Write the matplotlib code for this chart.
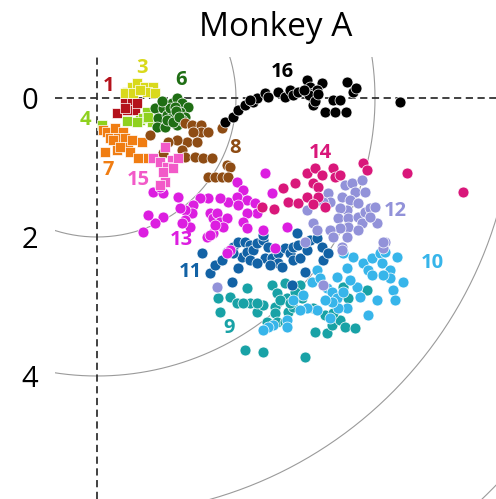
import numpy as np
import matplotlib.pyplot as plt

plt.rcParams['font.family'] = ['Open Sans', 'DejaVu Sans']

# cluster points (x, y) in the projected space, y grows downward
c1 = [(0.29, 0.22), (0.40, 0.07), (0.50, 0.07), (0.55, 0.17), (0.43, 0.17), (0.58, 0.07), (0.40, 0.14)]
c3 = [(0.43, -0.09), (0.50, -0.16), (0.58, -0.22), (0.69, -0.16), (0.81, -0.16), (0.40, -0.07),
      (0.72, -0.09), (0.83, -0.07), (0.52, -0.07), (0.62, -0.12)]
c4 = [(0.43, 0.33), (0.62, 0.32), (0.66, 0.29), (0.72, 0.20), (0.79, 0.35), (0.58, 0.35), (0.73, 0.27),
      (0.07, 0.39)]
c6 = [(0.83, 0.14), (0.95, 0.14), (1.08, 0.07), (1.15, 0.0), (1.22, 0.07), (1.31, 0.13), (0.88, 0.29),
      (1.01, 0.24), (1.09, 0.24), (1.19, 0.20), (1.27, 0.27), (0.86, 0.42), (0.98, 0.42), (1.15, 0.39),
      (1.05, 0.14), (1.12, 0.13), (1.22, 0.32), (1.01, 0.32), (1.09, 0.35), (1.14, 0.18), (0.93, 0.05),
      (1.18, 0.28)]
c7 = [(0.09, 0.46), (0.14, 0.49), (0.19, 0.58), (0.26, 0.43), (0.37, 0.49), (0.30, 0.58), (0.40, 0.58),
      (0.23, 0.60), (0.45, 0.71), (0.12, 0.78), (0.29, 0.75), (0.47, 0.78), (0.59, 0.86), (0.65, 0.63),
      (0.73, 0.86), (0.33, 0.71), (0.50, 0.60)]
c8 = [(1.27, 0.36), (1.37, 0.39), (1.50, 0.39), (1.50, 0.49), (1.60, 0.49), (1.38, 0.49), (1.80, 0.43),
      (1.30, 0.63), (1.15, 0.60), (1.02, 0.63), (1.22, 0.75), (1.27, 0.85), (1.41, 0.85), (1.53, 0.86),
      (1.65, 0.86), (0.76, 0.53), (0.95, 0.79), (1.60, 1.14), (1.70, 1.14), (1.80, 1.14), (1.87, 0.96),
      (1.91, 0.99), (1.88, 1.14), (1.44, 0.63)]
c9 = [(1.74, 2.88), (1.77, 3.08), (1.91, 2.86), (2.01, 2.95), (2.16, 2.73), (2.20, 2.95), (2.30, 3.08),
      (2.39, 2.98), (2.52, 2.69), (2.59, 2.81), (2.56, 3.01), (2.56, 3.09), (2.71, 2.66), (2.73, 2.88),
      (2.75, 3.08), (2.82, 3.01), (2.92, 2.69), (2.95, 2.88), (2.85, 2.79), (2.45, 3.22), (2.59, 3.22),
      (2.71, 3.22), (3.11, 3.02), (3.14, 3.37), (3.31, 3.38), (3.38, 3.27), (3.50, 3.19), (3.57, 3.29),
      (3.61, 2.88), (3.71, 3.31), (3.88, 2.76), (3.54, 2.72), (2.13, 3.63), (2.39, 3.65), (2.99, 3.73),
      (3.28, 3.12), (3.40, 3.09), (2.30, 2.95), (2.10, 2.95), (2.63, 2.91), (2.78, 2.95)]
c10 = [(3.17, 2.47), (3.09, 2.65), (3.21, 2.59), (3.31, 2.73), (3.38, 2.79), (3.45, 2.88), (3.54, 2.79),
       (3.45, 2.58), (3.60, 2.45), (3.68, 2.29), (3.74, 2.72), (3.83, 2.37), (3.90, 2.47), (3.96, 2.30),
       (4.07, 2.23), (4.10, 2.37), (4.14, 2.22), (4.22, 2.47), (4.26, 2.76), (4.32, 2.29), (4.40, 2.65),
       (4.22, 2.59), (4.12, 2.55), (4.03, 2.91), (3.90, 3.12), (3.60, 3.02), (3.47, 3.02), (3.35, 3.17),
       (3.17, 3.05), (3.02, 3.02), (2.92, 3.05), (2.73, 3.19), (2.73, 3.29), (2.53, 3.27), (2.46, 3.29),
       (2.39, 3.34), (2.82, 2.91), (2.96, 2.83), (3.64, 2.62), (3.54, 2.23), (3.38, 2.94), (3.28, 2.91),
       (4.29, 2.91), (3.96, 2.55), (3.78, 2.86)]
c11 = [(1.51, 2.23), (1.63, 2.52), (1.70, 2.40), (1.80, 2.33), (1.87, 2.22), (1.96, 2.14), (2.03, 2.07),
       (2.13, 2.07), (2.20, 2.12), (2.09, 2.29), (2.16, 2.22), (2.24, 2.19), (2.30, 2.09), (2.39, 2.04),
       (2.46, 2.14), (2.42, 2.30), (2.52, 2.30), (2.60, 2.23), (2.60, 2.37), (2.71, 2.16), (2.78, 2.23),
       (2.82, 2.14), (2.89, 2.12), (2.82, 2.33), (2.92, 2.30), (3.02, 2.19), (3.06, 2.04), (3.17, 2.01),
       (3.24, 2.14), (3.25, 2.33), (3.32, 2.23), (2.99, 2.50), (2.81, 2.69), (1.94, 2.65), (1.96, 2.23),
       (2.20, 2.33), (2.30, 2.37), (2.66, 2.43), (2.49, 2.40), (2.88, 1.94), (2.03, 2.45), (2.39, 1.97)]
c12 = [(3.32, 1.37), (3.35, 1.50), (3.57, 1.25), (3.67, 1.22), (3.71, 1.35), (3.81, 1.18), (3.86, 1.35),
       (3.53, 1.42), (3.64, 1.47), (3.76, 1.51), (3.60, 1.61), (3.50, 1.58), (3.47, 1.73), (3.61, 1.73),
       (3.76, 1.71), (3.86, 1.64), (3.93, 1.58), (4.00, 1.57), (4.03, 1.80), (3.81, 1.80), (3.61, 1.86),
       (3.50, 1.87), (3.35, 1.90), (3.40, 2.00), (3.60, 2.00), (3.76, 1.90), (3.11, 1.80), (3.17, 1.90),
       (3.93, 1.71), (4.14, 2.07), (4.12, 2.16), (3.53, 2.14), (3.02, 1.61), (3.25, 1.50),
       (1.73, 2.72), (3.25, 2.69), (2.99, 2.07), (3.53, 2.18), (4.12, 2.07)]
c13 = [(2.42, 1.08), (2.01, 1.21), (2.10, 1.32), (2.52, 1.37), (1.88, 1.50), (2.01, 1.42), (2.16, 1.47),
       (2.27, 1.51), (2.30, 1.65), (2.16, 1.65), (2.03, 1.54), (1.77, 1.44), (1.60, 1.44), (1.48, 1.44),
       (1.38, 1.54), (1.37, 1.65), (1.27, 1.61), (1.19, 1.58), (1.17, 1.42), (1.27, 1.76), (1.34, 1.86),
       (1.63, 1.65), (1.67, 1.73), (1.73, 1.65), (1.77, 1.78), (1.87, 1.73), (1.81, 1.86), (1.67, 1.94),
       (1.58, 2.00), (1.70, 1.83), (2.10, 1.78), (2.16, 1.87), (0.95, 1.71), (0.83, 1.80), (0.73, 1.68),
       (0.66, 1.93), (0.81, 1.35), (0.95, 1.37), (0.91, 1.28), (1.91, 2.19), (1.87, 2.23), (2.56, 2.16),
       (2.39, 1.90), (2.73, 1.86), (1.63, 1.97), (1.22, 1.80)]
c14 = [(2.68, 1.29), (2.85, 1.22), (2.75, 1.50), (2.89, 1.51), (3.02, 1.08), (3.14, 1.01), (3.24, 1.11),
       (3.11, 1.22), (3.18, 1.28), (3.02, 1.42), (3.18, 1.42), (3.11, 1.53), (3.28, 1.57), (3.40, 1.01),
       (3.42, 1.14), (3.50, 1.11), (3.83, 0.94), (3.88, 1.04), (4.46, 1.08), (5.27, 1.35), (2.37, 1.57),
       (2.55, 1.60)]
c15 = [(0.98, 0.71), (0.81, 0.86), (0.91, 0.92), (1.08, 0.89), (1.17, 0.86), (1.01, 0.99), (1.09, 1.01),
       (0.95, 1.06), (0.98, 1.21), (0.91, 1.25)]
c16 = [(1.84, 0.35), (1.96, 0.27), (2.03, 0.17), (2.13, 0.10), (2.24, 0.06), (2.30, 0.0), (2.42, -0.07),
       (2.46, -0.01), (2.60, -0.09), (2.71, -0.01), (2.78, -0.12), (2.82, -0.04), (2.89, -0.09),
       (3.02, -0.26), (3.02, -0.09), (3.06, -0.16), (3.11, -0.07), (3.14, 0.03), (3.11, 0.10),
       (3.24, -0.22), (3.28, 0.20), (3.42, 0.20), (3.39, 0.03), (3.49, 0.03), (3.59, 0.20), (3.60, -0.23),
       (3.68, -0.09), (3.73, -0.14), (4.36, 0.06), (3.09, -0.01), (3.17, -0.12), (3.05, -0.04),
       (3.13, 0.05), (2.98, -0.12), (3.18, -0.06), (2.20, 0.03)]

cluster_ids = [1, 3, 4, 6, 7, 8, 9, 10, 11, 12, 13, 14, 15, 16]
cluster_pts = [c1, c3, c4, c6, c7, c8, c9, c10, c11, c12, c13, c14, c15, c16]
colors = {1: '#b4111b', 3: '#d9d91c', 4: '#8fd11f', 6: '#1f6e14', 7: '#f07d12', 8: '#8e4c14',
          9: '#18a2a6', 10: '#37b5ea', 11: '#1262a5', 12: '#9292d9', 13: '#dc1ee0', 14: '#d9177a',
          15: '#f25ac8', 16: '#000000'}
square_ids = [1, 3, 4, 7, 15]

# label positions for the cluster numbers
label_pos = {1: (0.16, -0.17), 3: (0.65, -0.43), 6: (1.21, -0.26), 4: (-0.16, 0.32), 7: (0.16, 1.04),
             15: (0.59, 1.18), 8: (1.99, 0.72), 16: (2.66, -0.37), 14: (3.22, 0.79), 12: (4.29, 1.63),
             13: (1.22, 2.04), 11: (1.34, 2.50), 10: (4.82, 2.37), 9: (1.90, 3.31)}

radii = [2, 4, 6, 8]

fig = plt.figure(figsize=(4.96, 4.99), dpi=100)
ax = fig.add_axes([55 / 496, 0, 441 / 496, 442 / 499])

th = np.linspace(0, 2 * np.pi, 721)
for r in radii:
    ax.plot(r * np.cos(th), r * np.sin(th), color='#9a9a9a', lw=0.8, zorder=1)

ax.axhline(0, color='#333333', lw=1.3, ls=(0, (4, 2.5)), zorder=2)
ax.axvline(0, color='#333333', lw=1.3, ls=(0, (4, 2.5)), zorder=2)

for cid, pts in zip(cluster_ids, cluster_pts):
    pts = np.array(pts)
    mk = 's' if cid in square_ids else 'o'
    ax.scatter(pts[:, 0], pts[:, 1], s=62 if mk == 'o' else 55, marker=mk, color=colors[cid],
               edgecolors='white', linewidths=0.5, zorder=3)
    lx, ly = label_pos[cid]
    ax.text(lx, ly, str(cid), color=colors[cid], fontsize=14.5, fontweight='bold',
            ha='center', va='center', zorder=4)

ax.set_xlim(-0.604, 5.741)
ax.set_ylim(5.77, -0.59)
ax.set_xticks([])
ax.set_yticks([0, 2, 4])
ax.tick_params(axis='y', length=0, pad=12, labelsize=21)
for s in ax.spines.values():
    s.set_visible(False)

fig.text(276 / 496, 1 - 28 / 499, 'Monkey A', ha='center', va='center', fontsize=24)

fig.savefig('out.png', dpi=100)
